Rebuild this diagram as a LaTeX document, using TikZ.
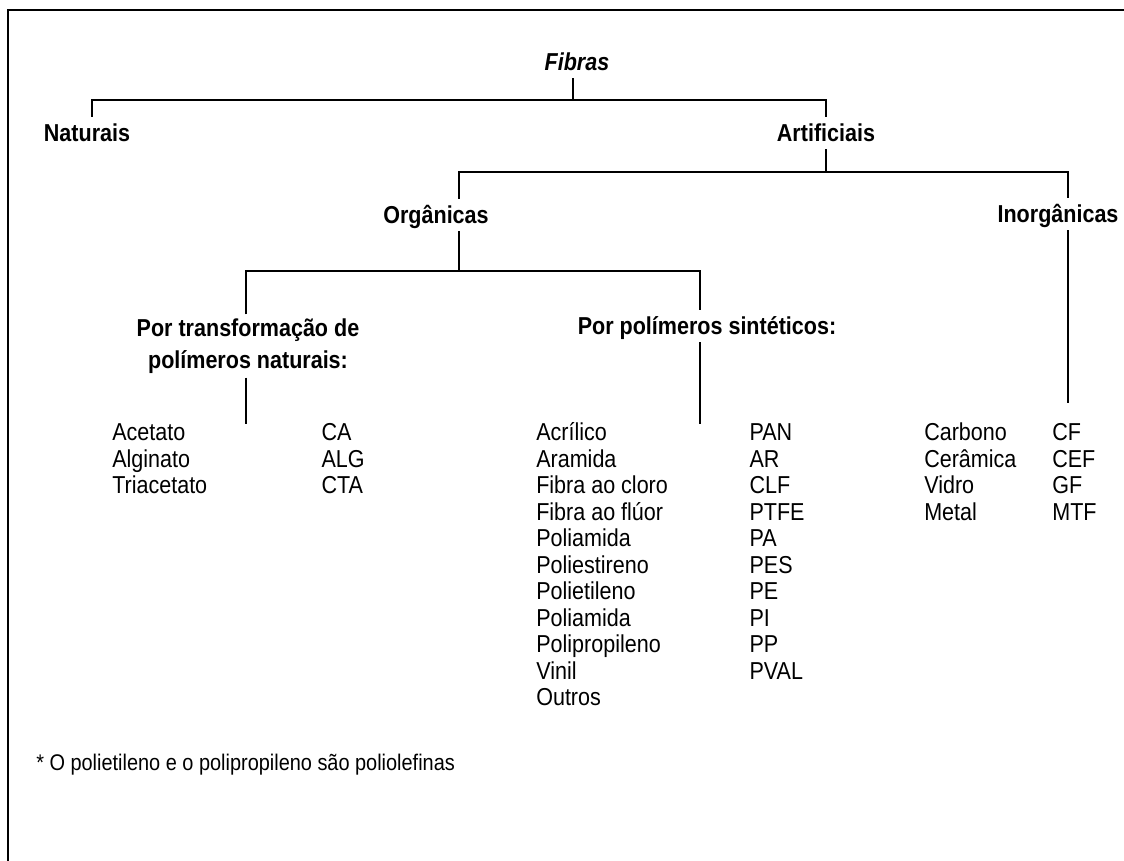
\documentclass[tikz,border=0pt]{standalone}
\usepackage{fontspec}
\setmainfont{Liberation Sans}[FakeStretch=0.88]

\begin{document}
\begin{tikzpicture}[x=0.025cm, y=-0.025cm,
  hdg/.style={font=\fontsize{17.4}{22.8}\selectfont\bfseries, inner xsep=0pt, inner ysep=0.18cm, text height=12.5pt, text depth=0pt},
  hdgtwo/.style={font=\fontsize{17.4}{22.8}\selectfont\bfseries, align=center, inner xsep=0pt, inner ysep=0.1cm},
  lst/.style={font=\fontsize{17.4}{18.85}\selectfont, inner sep=0pt, anchor=north west},
  note/.style={font=\fontsize{16.1}{18}\selectfont, inner sep=0pt, anchor=west, text height=11.5pt, text depth=0pt},
  tree/.style={line width=1.3pt},
  frame/.style={line width=0.9pt}
]
\useasboundingbox (0,0) rectangle (1124,861);
\draw[frame] (8,861) -- (8,10) -- (1124,10);

% headings
\node[hdg, font=\fontsize{17.4}{22.8}\selectfont\bfseries\itshape] (fibras) at (577,62) {Fibras};
\node[hdg] (nat) at (87,133) {Naturais};
\node[hdg] (art) at (826,133) {Artificiais};
\node[hdg] (org) at (436,215) {Orgânicas};
\node[hdg] (inorg) at (1058,214) {Inorgânicas};
\node[hdgtwo] (ptrans) at (248,346) {Por transformação de\\polímeros naturais:};
\node[hdg] (psint) at (707,326) {Por polímeros sintéticos:};

% joints
\coordinate (b0) at (573,100);
\coordinate (b1l) at (92,100);
\coordinate (b1r) at (826,100);
\coordinate (b2l) at (459,172);
\coordinate (b2r) at (1068,172);
\coordinate (b3l) at (246,271);
\coordinate (b3r) at (700,271);
\coordinate (endinorg) at (1068,403);
\coordinate (endtrans) at (246,424);
\coordinate (endsint) at (700,424);

% tree
\draw[tree] (b0 |- fibras.south) -- (b0);
\draw[tree] (b1l |- nat.north) -- (b1l) -- (b1r) -- (b1r |- art.north);
\draw[tree] (b1r |- art.south) -- (b1r |- b2l);
\draw[tree] (b2l |- org.north) -- (b2l) -- (b2r) -- (b2r |- inorg.north);
\draw[tree] (b2l |- org.south) -- (b2l |- b3l);
\draw[tree] (b3l |- ptrans.north) -- (b3l) -- (b3r) -- (b3r |- psint.north);
\draw[tree] (b2r |- inorg.south) -- (endinorg);
\draw[tree] (b3l |- ptrans.south) -- (endtrans);
\draw[tree] (b3r |- psint.south) -- (endsint);

% lists
\node[lst] (ltrans) at (112,422) {\begin{tabular}{@{}p{5.23cm}@{}l@{}}
Acetato & CA\\
Alginato & ALG\\
Triacetato & CTA
\end{tabular}};
\node[lst] (lsint) at (536,422) {\begin{tabular}{@{}p{5.33cm}@{}l@{}}
Acrílico & PAN\\
Aramida & AR\\
Fibra ao cloro & CLF\\
Fibra ao flúor & PTFE\\
Poliamida & PA\\
Poliestireno & PES\\
Polietileno & PE\\
Poliamida & PI\\
Polipropileno & PP\\
Vinil & PVAL\\
Outros &
\end{tabular}};
\node[lst] (linorg) at (924,422) {\begin{tabular}{@{}p{3.2cm}@{}l@{}}
Carbono & CF\\
Cerâmica & CEF\\
Vidro & GF\\
Metal & MTF
\end{tabular}};

\node[note] (nota) at (36,762) {* O polietileno e o polipropileno são poliolefinas};
\end{tikzpicture}
\end{document}
